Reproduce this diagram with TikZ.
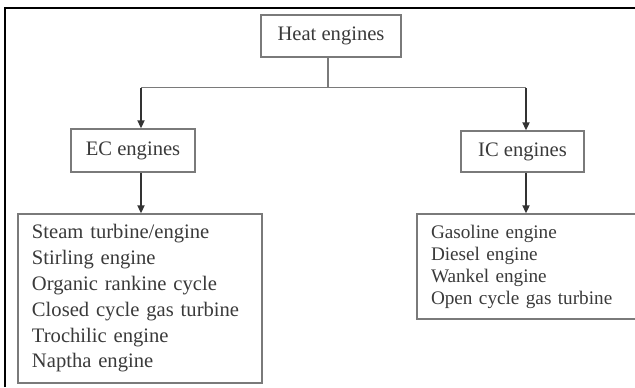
\documentclass[tikz,border=0pt]{standalone}
\usepackage{fontspec}
\setmainfont{Liberation Serif}
\usepackage{xcolor}
\usepackage{tikz}
\usetikzlibrary{arrows.meta, positioning}

\definecolor{boxgray}{HTML}{7A7A7A}
\definecolor{txtgray}{HTML}{3A3A3A}

\begin{document}
\begin{tikzpicture}[
    x=0.5pt, y=-0.5pt,
    box/.style={
        rectangle, draw=boxgray, line width=0.75pt,
        text=txtgray, font=\fontsize{10.3}{12.9}\selectfont,
        inner sep=0pt, align=center
    },
    listbox/.style={
        box, align=left, inner xsep=7pt, inner ysep=0pt
    },
    arrow/.style={-{Triangle[length=4pt, width=3.6pt]}, line width=0.75pt, draw=black!80},
    link/.style={line width=0.7pt, draw=boxgray},
    frame/.style={line width=1pt, draw=black},
]

% Cornice e area
\useasboundingbox (0,0) rectangle (635,387);
\clip (0,0) rectangle (635,387);
\draw[frame] (4.5,387) -- (4.5,7.5) -- (635,7.5);

% Nodi
\node[box, minimum width=70pt, minimum height=21pt] (heat) at (331,36) {Heat engines};
\node[box, minimum width=62pt, minimum height=21.5pt] (ec) at (133,150.5) {EC engines};
\node[box, minimum width=61.5pt, minimum height=20.5pt] (ic) at (522.5,151.5) {IC engines};

% Elenchi
\node[listbox, text width=108pt, minimum height=84.5pt] (eclist) at (140,298.5)
    {Steam turbine/engine\\
     Stirling engine\\
     Organic rankine cycle\\
     Closed cycle gas turbine\\
     Trochilic engine\\
     Naptha engine};
\node[listbox, text width=97.5pt, minimum height=52.5pt,
      font=\fontsize{9.6}{11}\selectfont] (iclist) at (528.5,266.5)
    {Gasoline engine\\
     Diesel engine\\
     Wankel engine\\
     Open cycle gas turbine};

% Collegamenti
\draw[link] ([xshift=-1.5pt]heat.south) -- ++(0,30) coordinate (split);
\draw[link] (split) -- (split -| 141,0);
\draw[link] (split) -- (split -| 526,0);
\draw[arrow] (split -| 141,0) -- ([xshift=4pt]ec.north);
\draw[arrow] (split -| 526,0) -- ([xshift=1.75pt]ic.north);
\draw[arrow] ([xshift=4pt]ec.south) -- ([xshift=4pt]ec.south |- eclist.north);
\draw[arrow] ([xshift=1.75pt]ic.south) -- ([xshift=1.75pt]ic.south |- iclist.north);

\end{tikzpicture}
\end{document}
